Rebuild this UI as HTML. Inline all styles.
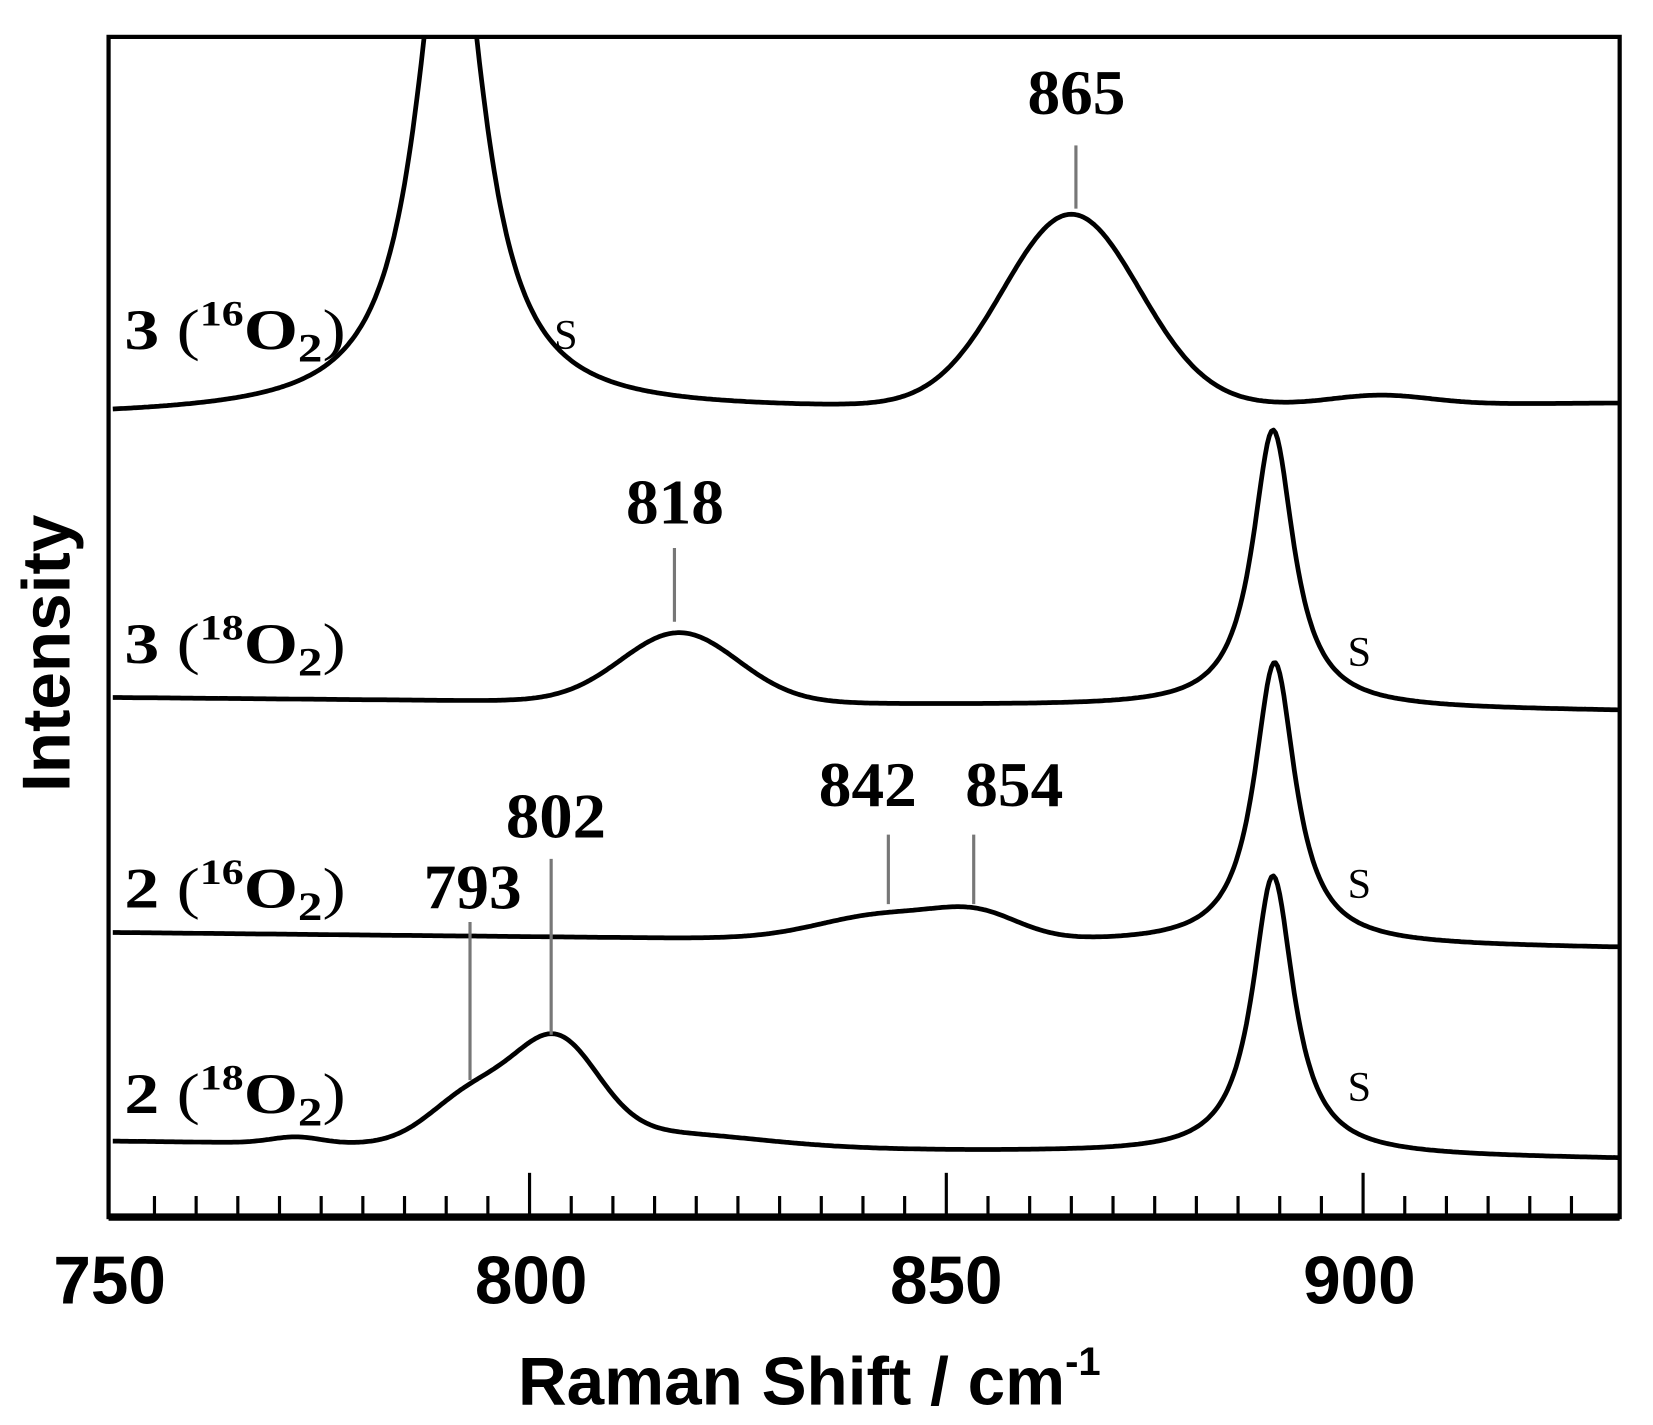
<!DOCTYPE html>
<html><head><meta charset="utf-8"><style>
html,body{margin:0;padding:0;background:#fff;width:1653px;height:1425px;overflow:hidden}
svg{display:block}
.lab{font-family:"Liberation Serif",serif;font-weight:bold;font-size:54px;fill:#000}
.num{font-family:"Liberation Serif",serif;font-weight:bold;font-size:60px;fill:#000}
.s{font-family:"Liberation Serif",serif;font-size:40px;fill:#000}
.ax{font-family:"Liberation Sans",sans-serif;font-weight:bold;font-size:64px;fill:#000}
</style></head><body>
<svg id="c" width="1653" height="1425" viewBox="0 0 1568.6 1352.3" xmlns="http://www.w3.org/2000/svg">
<defs><clipPath id="cp"><rect x="103" y="35" width="1434" height="1120"/></clipPath></defs>
<g id="traces" clip-path="url(#cp)" fill="none" stroke="#000" stroke-width="4.5" stroke-linejoin="round"></g>
<rect x="103" y="35" width="1434" height="1120" fill="none" stroke="#000" stroke-width="4"/>
<line x1="103" y1="1155" x2="1537" y2="1155" stroke="#000" stroke-width="7"/>
<g id="ticks" stroke="#000" stroke-width="3"></g>
<g stroke="#777" stroke-width="3">
<line x1="1021" y1="138" x2="1021" y2="198"/>
<line x1="640" y1="520" x2="640" y2="590"/>
<line x1="843" y1="792" x2="843" y2="858"/>
<line x1="924" y1="792" x2="924" y2="858"/>
<line x1="523" y1="815" x2="523" y2="982"/>
<line x1="446" y1="875" x2="446" y2="1025"/>
</g>
<text class="num" x="975" y="108" textLength="93" lengthAdjust="spacingAndGlyphs">865</text>
<text class="num" x="594" y="497" textLength="93" lengthAdjust="spacingAndGlyphs">818</text>
<text class="num" x="777" y="765" textLength="93" lengthAdjust="spacingAndGlyphs">842</text>
<text class="num" x="916" y="765" textLength="93" lengthAdjust="spacingAndGlyphs">854</text>
<text class="num" x="480" y="795" textLength="95" lengthAdjust="spacingAndGlyphs">802</text>
<text class="num" x="402" y="862" textLength="93" lengthAdjust="spacingAndGlyphs">793</text>
<text class="lab" x="118" y="331" textLength="210" lengthAdjust="spacingAndGlyphs">3 <tspan font-weight="normal">(</tspan><tspan font-size="34" dy="-22">16</tspan><tspan dy="22">O</tspan><tspan font-size="38" dy="12">2</tspan><tspan font-weight="normal" dy="-12">)</tspan></text>
<text class="lab" x="118" y="629" textLength="210" lengthAdjust="spacingAndGlyphs">3 <tspan font-weight="normal">(</tspan><tspan font-size="34" dy="-22">18</tspan><tspan dy="22">O</tspan><tspan font-size="38" dy="12">2</tspan><tspan font-weight="normal" dy="-12">)</tspan></text>
<text class="lab" x="118" y="861" textLength="210" lengthAdjust="spacingAndGlyphs">2 <tspan font-weight="normal">(</tspan><tspan font-size="34" dy="-22">16</tspan><tspan dy="22">O</tspan><tspan font-size="38" dy="12">2</tspan><tspan font-weight="normal" dy="-12">)</tspan></text>
<text class="lab" x="118" y="1056" textLength="210" lengthAdjust="spacingAndGlyphs">2 <tspan font-weight="normal">(</tspan><tspan font-size="34" dy="-22">18</tspan><tspan dy="22">O</tspan><tspan font-size="38" dy="12">2</tspan><tspan font-weight="normal" dy="-12">)</tspan></text>
<text class="s" x="537" y="331" text-anchor="middle">S</text>
<text class="s" x="1290" y="632" text-anchor="middle">S</text>
<text class="s" x="1290" y="852" text-anchor="middle">S</text>
<text class="s" x="1290" y="1045" text-anchor="middle">S</text>
<text class="ax" x="104" y="1237" text-anchor="middle">750</text>
<text class="ax" x="504" y="1237" text-anchor="middle">800</text>
<text class="ax" x="898" y="1237" text-anchor="middle">850</text>
<text class="ax" x="1290" y="1237" text-anchor="middle">900</text>
<text class="ax" x="768" y="1333" text-anchor="middle" font-size="62">Raman Shift / cm<tspan font-size="38" dy="-28">-1</tspan></text>
<text class="ax" transform="translate(66,620) rotate(-90)" text-anchor="middle" font-size="60">Intensity</text>
</svg>
<script>
(function(){
var NS="http://www.w3.org/2000/svg";
function X(u){return 107+(u-750)*7.91;}
function G(u,c,h,s){return h*Math.exp(-(u-c)*(u-c)/(2*s*s));}
function L(u,c,h,g){return h*g*g/(g*g+(u-c)*(u-c));}
var tr=[
 function(u){var b=395-(u-750)*12/181;return b-L(u,790.5,517,4.7)-G(u,865,182,8.2)-G(u,902,9,6);},
 function(u){var b=662+(u-750)*13/181;return b-G(u,818,66,7)-L(u,889.2,264,3);},
 function(u){var b=885+(u-750)*15/181;return b-G(u,843,24,8)-G(u,854,20,5)-L(u,889.4,268,3);},
 function(u){var b=1083+(u-750)*17/181;return b-G(u,793,45,5)-G(u,803.2,92,5)-G(u,815,14,12)-L(u,889.2,265,3)-G(u,772,6,3);}
];
var g=document.getElementById("traces");
tr.forEach(function(f){var d="";for(var u=750;u<=931;u+=0.25){d+=(d?"L":"M")+X(u).toFixed(1)+","+f(u).toFixed(1);}
 var p=document.createElementNS(NS,"path");p.setAttribute("d",d);g.appendChild(p);});
var t=document.getElementById("ticks");
for(var u=755;u<=925;u+=5){var l=document.createElementNS(NS,"line");var x=X(u);
 l.setAttribute("x1",x);l.setAttribute("x2",x);l.setAttribute("y1",1155);l.setAttribute("y2",u%50==0?1113:1135);t.appendChild(l);}
})();
</script>
</body></html>
